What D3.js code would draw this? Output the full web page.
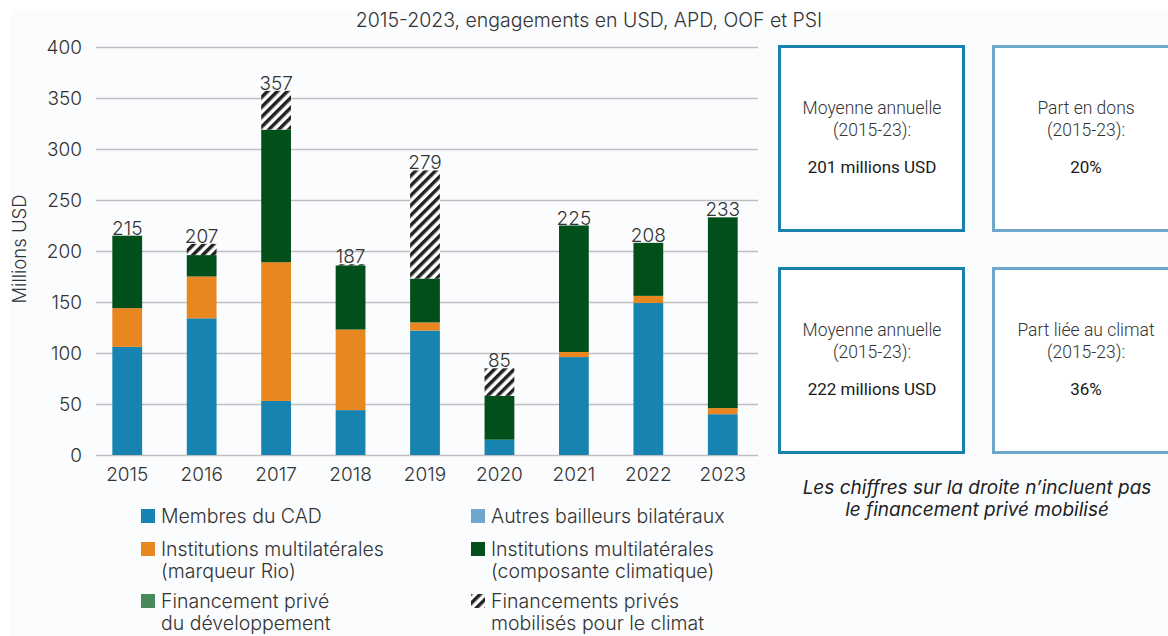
<!DOCTYPE html>
<html><head><meta charset="utf-8">
<script src="https://cdn.jsdelivr.net/npm/d3@7"></script>
<style>
html,body{margin:0;padding:0;background:#fff;}
svg{display:block;font-family:Inter,Roboto,"Noto Sans",sans-serif;}
</style></head>
<body>
<svg id="c" width="1168" height="636"></svg>
<script>
const years = ["2015","2016","2017","2018","2019","2020","2021","2022","2023"];
const cad    = [106,134,53,44,122,15,96,149,40];
const autres = [0,0,0,0,0,0,0,0,0];
const rio    = [38,41,136,79,8,0,5,7,6];
const clim   = [71,21,130,63,43,43,124,52,187];
const prive  = [0,0,0,0,0,0,0,0,0];
const mobil  = [0,11,38,1,106,27,0,0,0];
const yTicks = [0,50,100,150,200,250,300,350,400];
const seriesKeys = ["cad","autres","rio","clim","prive","mobil"];
const seriesLabels = [
  ["Membres du CAD"],
  ["Autres bailleurs bilatéraux"],
  ["Institutions multilatérales","(marqueur Rio)"],
  ["Institutions multilatérales","(composante climatique)"],
  ["Financement privé","du développement"],
  ["Financements privés","mobilisés pour le climat"]
];
const seriesColors = ["#1783b0","#6ea7cb","#e8861f","#01501b","#4a8a5a","url(#hatch)"];
const title = "2015-2023, engagements en USD, APD, OOF et PSI";
const yLabel = "Millions USD";
const boxTitles = [["Moyenne annuelle","(2015-23):"],["Part en dons","(2015-23):"],["Moyenne annuelle","(2015-23):"],["Part liée au climat","(2015-23):"]];
const boxValues = ["201 millions USD","20%","222 millions USD","36%"];
const note = ["Les chiffres sur la droite n’incluent pas","le financement privé mobilisé"];

const svg = d3.select("#c");
const defs = svg.append("defs");
const pat = defs.append("pattern").attr("id","hatch").attr("patternUnits","userSpaceOnUse")
  .attr("width",7).attr("height",7).attr("patternTransform","rotate(45)");
pat.append("rect").attr("width",7).attr("height",7).attr("fill","#fff");
pat.append("rect").attr("width",3.5).attr("height",7).attr("fill","#222");

svg.append("rect").attr("x",10).attr("y",10).attr("width",1158).attr("height",626).attr("fill","#fbfcfd");

const data = years.map((y,i)=>({year:y,cad:cad[i],autres:autres[i],rio:rio[i],clim:clim[i],prive:prive[i],mobil:mobil[i]}));
const stack = d3.stack().keys(seriesKeys)(data);

const x = d3.scaleBand().domain(years).range([90,760]).paddingInner(0.6).paddingOuter(0.3);
const y = d3.scaleLinear().domain([0,400]).range([455,47]);
const FONT = "Inter,Roboto,sans-serif";

// grid + y axis
const gy = svg.append("g").attr("transform","translate(96,0)")
  .call(d3.axisLeft(y).tickValues(yTicks).tickSize(-662).tickPadding(14))
  .attr("font-family",FONT);
gy.select(".domain").remove();
gy.selectAll(".tick line").attr("stroke","#bdbfc2").attr("stroke-width",1.6);
gy.selectAll(".tick text").attr("font-size",19).attr("fill","#333").attr("font-weight",300);

// bars
svg.append("g").selectAll("g").data(stack).join("g")
  .attr("fill",(d,i)=>seriesColors[i])
  .selectAll("rect").data(d=>d).join("rect")
  .attr("x",d=>x(d.data.year)).attr("width",x.bandwidth())
  .attr("y",d=>y(d[1])).attr("height",d=>Math.max(0,y(d[0])-y(d[1])));

// totals
svg.append("g").selectAll("text").data(data).join("text")
  .attr("x",d=>x(d.year)+x.bandwidth()/2)
  .attr("y",d=>y(seriesKeys.reduce((s,k)=>s+d[k],0))-1)
  .attr("text-anchor","middle").attr("font-size",19).attr("font-weight",300).attr("fill","#333")
  .text(d=>seriesKeys.reduce((s,k)=>s+d[k],0));

// x axis
const gx = svg.append("g").attr("transform","translate(0,455)")
  .call(d3.axisBottom(x).tickSize(0).tickPadding(13)).attr("font-family",FONT);
gx.select(".domain").remove();
gx.selectAll(".tick text").attr("font-size",19).attr("fill","#333").attr("font-weight",300);

// y label
svg.append("text").attr("transform","translate(26,249) rotate(-90)")
  .attr("text-anchor","middle").attr("font-size",18.5).attr("font-weight",300).attr("fill","#333").text(yLabel);

// title
svg.append("text").attr("x",589).attr("y",27).attr("text-anchor","middle")
  .attr("font-size",19.5).attr("font-weight",300).attr("fill","#333").text(title);

// legend
const legPos = [[141,516],[471,516],[141,549],[471,549],[141,601],[471,601]];
seriesLabels.forEach((lab,i)=>{
  const g = svg.append("g").attr("transform",`translate(${legPos[i][0]},${legPos[i][1]})`);
  g.append("rect").attr("x",0).attr("y",-7).attr("width",14).attr("height",14).attr("fill",seriesColors[i]);
  lab.forEach((t,j)=>g.append("text").attr("x",20).attr("y",j*22).attr("dy","0.36em")
    .attr("font-size",19.5).attr("font-weight",300).attr("fill","#333").text(t));
});

// boxes
const boxPos = [[778,45,"#1a80ad"],[992,45,"#6ea7cb"],[778,267,"#1a80ad"],[992,267,"#6ea7cb"]];
boxPos.forEach((b,i)=>{
  const g = svg.append("g").attr("transform",`translate(${b[0]},${b[1]})`);
  g.append("rect").attr("x",1.5).attr("y",1.5).attr("width",184).attr("height",184)
    .attr("fill","#fff").attr("stroke",b[2]).attr("stroke-width",3);
  boxTitles[i].forEach((t,j)=>g.append("text").attr("x",94).attr("y",63+j*22).attr("dy","0.36em")
    .attr("text-anchor","middle").attr("font-family","Roboto,sans-serif").attr("font-size",17.5)
    .attr("font-weight",300).attr("fill","#333").text(t));
  g.append("text").attr("x",94).attr("y",122).attr("dy","0.36em").attr("text-anchor","middle")
    .attr("font-family","Roboto,sans-serif")
    .attr("font-size",17).attr("font-weight",400).attr("fill","#1a1a1a").text(boxValues[i]);
});

note.forEach((t,j)=>svg.append("text").attr("x",977).attr("y",487+j*22).attr("dy","0.36em")
  .attr("text-anchor","middle").attr("font-size",19).attr("font-style","italic").attr("font-weight",400)
  .attr("fill","#222").text(t));
</script>
</body></html>
